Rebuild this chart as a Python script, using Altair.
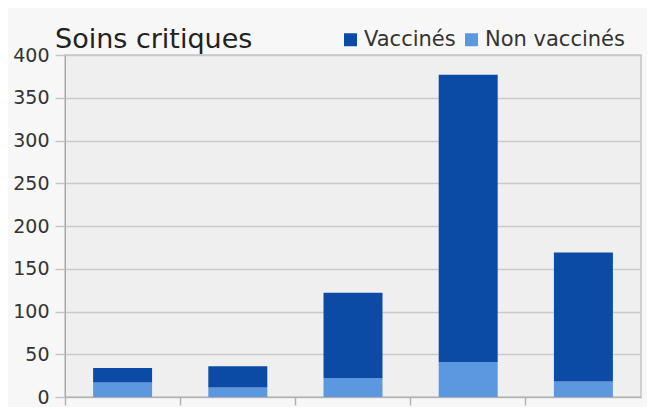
import altair as alt
import pandas as pd

categories = ["A", "B", "C", "D", "E"]
vaccines = [17, 25, 100, 336, 151]
non_vaccines = [17, 11, 22, 41, 18]
series = ["Vaccinés", "Non vaccinés"]
colors = ["#0b4ba6", "#5b98e0"]

rows = []
for c, v, n in zip(categories, vaccines, non_vaccines):
    rows.append({"cat": c, "serie": "Non vaccinés", "value": n, "ord": 0})
    rows.append({"cat": c, "serie": "Vaccinés", "value": v, "ord": 1})
df = pd.DataFrame(rows)

FONT = "DejaVu Sans"

chart = alt.Chart(df).mark_bar(width=alt.RelativeBandSize(0.512)).encode(
    x=alt.X("cat:N", sort=categories,
            scale=alt.Scale(paddingInner=0, paddingOuter=0),
            axis=alt.Axis(labels=False, title=None, bandPosition=0, tickSize=8,
                          tickColor="#b0b0b0", domainColor="#b0b0b0", grid=False,
                          tickWidth=1.5)),
    y=alt.Y("value:Q", stack="zero", scale=alt.Scale(domain=[0, 400]),
            axis=alt.Axis(values=list(range(0, 401, 50)), title=None, tickSize=10,
                          tickColor="#c4c4c4", domainColor="#a8a8a8",
                          gridColor="#c9c9c9", gridWidth=1.5, tickWidth=1.5,
                          labelFontSize=19, labelColor="#333333", labelFont=FONT,
                          labelPadding=6)),
    color=alt.Color("serie:N",
                    scale=alt.Scale(domain=series, range=colors),
                    legend=alt.Legend(orient="none", legendX=275, legendY=-26,
                                      direction="horizontal", title=None,
                                      symbolType="square", symbolSize=169,
                                      symbolStrokeWidth=0, columnPadding=5,
                                      labelFontSize=21, labelFont=FONT,
                                      labelColor="#333333", labelOffset=3)),
    order=alt.Order("ord:Q"),
).properties(
    width=576,
    height=342,
    title=alt.TitleParams("Soins critiques", anchor="start", frame="group",
                          fontSize=27, fontWeight="normal", font=FONT,
                          color="#222222", dx=-10, dy=31, offset=6),
    autosize=alt.AutoSizeParams(type="none"),
    padding={"left": 57, "top": 47, "right": 6, "bottom": 10},
    background="#f7f7f7",
).configure_view(
    fill="#efefef", stroke="#c4c4c4", strokeWidth=1.5
)

chart.save("out.html", embed_options={"renderer": "svg", "actions": False})
